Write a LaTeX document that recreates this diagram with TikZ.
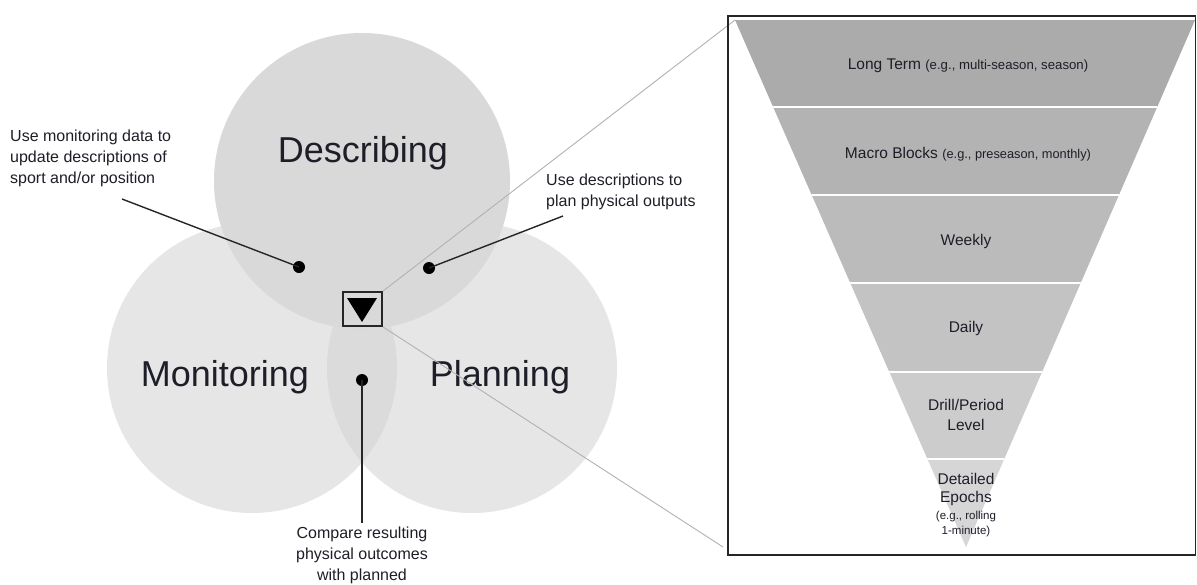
\documentclass[tikz,border=0pt]{standalone}
\usepackage{fontspec}
\setmainfont{Liberation Sans}
\definecolor{circD}{HTML}{D9D9D9}
\definecolor{circM}{HTML}{E6E6E6}
\definecolor{circMP}{HTML}{DBDBDB}
\definecolor{txt}{HTML}{1E1E28}
\definecolor{b1}{HTML}{ABABAB}
\definecolor{b2}{HTML}{B3B3B3}
\definecolor{b3}{HTML}{BBBBBB}
\definecolor{b4}{HTML}{C3C3C3}
\definecolor{b5}{HTML}{CCCCCC}
\definecolor{b6}{HTML}{D6D6D6}
\begin{document}
\begin{tikzpicture}[x=1pt,y=-1pt,
  bigtxt/.style={font=\fontsize{36}{43}\selectfont, text=txt, inner sep=0pt},
  anno/.style={font=\fontsize{16}{21}\selectfont, text=txt, inner sep=0pt},
  bandtxt/.style={font=\fontsize{15.5}{18}\selectfont, text=txt, inner sep=0pt, align=center},
  dotnode/.style={circle, fill=black, minimum size=12pt, inner sep=0pt},
  leader/.style={line width=1.4pt, draw=black!85},
  zoomline/.style={line width=0.9pt, draw=black!30},
  sep/.style={draw=white, line width=2pt}]
\useasboundingbox (0,0) rectangle (1197,584);
\fill[white] (0,0) rectangle (1197,584);
% circles
\fill[circM] (252,368) circle[radius=145];
\fill[circM] (472,368) circle[radius=145];
\begin{scope}
  \clip (252,368) circle[radius=145];
  \fill[circMP] (472,368) circle[radius=145];
\end{scope}
\fill[circD] (362,181) circle[radius=148];
% labels
\node[bigtxt] (desc) at (363,153) {Describing};
\node[bigtxt] (mon) at (225,377) {Monitoring};
\node[bigtxt] (plan) at (500,377) {Planning};
% zoom box
\node[draw=black!85, line width=1.6pt, minimum width=39pt, minimum height=34pt, inner sep=0pt] (zbox) at (362.5,309) {};
\fill[black] (347,298) -- (377,298) -- (362,322) -- cycle;
% frame and funnel
\coordinate (fTL) at (735,20);
\coordinate (fTR) at (1195,20);
\coordinate (fB) at (966,547);
\draw[zoomline] (zbox.north east) -- (fTL);
\draw[zoomline] (zbox.south east) -- (723,547);
\begin{scope}
  \clip (fTL) -- (fTR) -- (fB) -- cycle;
  \fill[b1] (700,20) rectangle (1197,107);
  \fill[b2] (700,107) rectangle (1197,195);
  \fill[b3] (700,195) rectangle (1197,283);
  \fill[b4] (700,283) rectangle (1197,372);
  \fill[b5] (700,372) rectangle (1197,459);
  \fill[b6] (700,459) rectangle (1197,548);
  \foreach \yy in {107,195,283,372,459} \draw[sep] (700,\yy) -- (1197,\yy);
\end{scope}
\draw[draw=black!85, line width=1.5pt] (728,16) rectangle (1195.5,555);
\node[bandtxt] (l1) at (968,66) {Long Term {\fontsize{13.2}{15}\selectfont(e.g., multi-season, season)}};
\node[bandtxt] (l2) at (968,154) {Macro Blocks {\fontsize{12.8}{15}\selectfont(e.g., preseason, monthly)}};
\node[bandtxt] (l3) at (966,241) {Weekly};
\node[bandtxt] (l4) at (966,328) {Daily};
\node[bandtxt, font=\fontsize{15.5}{20}\selectfont] (l5) at (966,415) {Drill/Period\\Level};
\node[bandtxt, anchor=north] (l6) at (966,473) {Detailed\\Epochs\\[-1pt]{\fontsize{11.5}{14}\selectfont(e.g., rolling}\\[-3pt]{\fontsize{11.5}{14}\selectfont 1-minute)}};
% annotations
\node[anno, anchor=north west, align=left] (a1) at (10,130) {Use monitoring data to\\update descriptions of\\sport and/or position};
\node[anno, anchor=north west, align=left] (a2) at (546,174) {Use descriptions to\\plan physical outputs};
\node[anno, anchor=north, align=center] (a3) at (362,527) {Compare resulting\\physical outcomes\\with planned};
\node[dotnode] (d1) at (299,267) {};
\node[dotnode] (d2) at (429,268) {};
\node[dotnode] (d3) at (362,380) {};
\coordinate (s1) at (122,199);
\coordinate (s2) at (563,216);
\coordinate (s3) at (362,523);
\draw[leader] (s1) -- (d1.center);
\draw[leader] (s2) -- (d2.center);
\draw[leader] (s3) -- (d3.center);
\end{tikzpicture}
\end{document}
